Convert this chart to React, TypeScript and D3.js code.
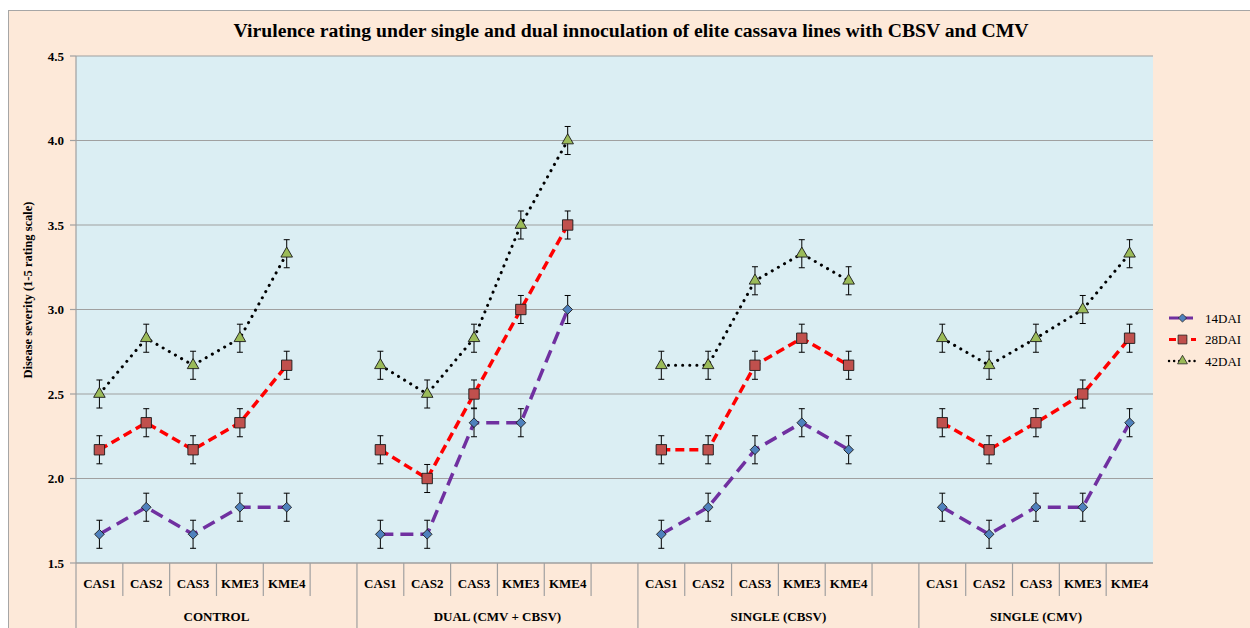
import React from 'react';
import * as d3 from 'd3';

const groups = ['CONTROL', 'DUAL (CMV + CBSV)', 'SINGLE (CBSV)', 'SINGLE (CMV)'];
const cultivars = ['CAS1', 'CAS2', 'CAS3', 'KME3', 'KME4'];
const yTicks = [1.5, 2.0, 2.5, 3.0, 3.5, 4.0, 4.5];

// mean rating per group, per cultivar
const dai14 = [
  [1.67, 1.83, 1.67, 1.83, 1.83],
  [1.67, 1.67, 2.33, 2.33, 3.0],
  [1.67, 1.83, 2.17, 2.33, 2.17],
  [1.83, 1.67, 1.83, 1.83, 2.33],
];
const dai28 = [
  [2.17, 2.33, 2.17, 2.33, 2.67],
  [2.17, 2.0, 2.5, 3.0, 3.5],
  [2.17, 2.17, 2.67, 2.83, 2.67],
  [2.33, 2.17, 2.33, 2.5, 2.83],
];
const dai42 = [
  [2.5, 2.83, 2.67, 2.83, 3.33],
  [2.67, 2.5, 2.83, 3.5, 4.0],
  [2.67, 2.67, 3.17, 3.33, 3.17],
  [2.83, 2.67, 2.83, 3.0, 3.33],
];
const errorBar = 0.083;

const seriesNames = ['14DAI', '28DAI', '42DAI'];

type Slot = { key: string; group: number; cultivar: string };

// 5 cultivars per group plus an empty spacer slot (not after the last group)
const slots: Slot[] = [];
groups.forEach((g, gi) => {
  cultivars.forEach(c => slots.push({ key: `${gi}-${c}`, group: gi, cultivar: c }));
  if (gi < groups.length - 1) slots.push({ key: `${gi}-blank`, group: gi, cultivar: '' });
});

const FONT = '"Liberation Serif", "Times New Roman", serif';

const App: React.FC = () => {
  const width = 1250;
  const height = 628;
  const plot = { left: 76, right: 1153, top: 56, bottom: 563 };

  const x = d3.scaleBand<string>()
    .domain(slots.map(s => s.key))
    .range([plot.left, plot.right])
    .padding(0);
  const y = d3.scaleLinear().domain([1.5, 4.5]).range([plot.bottom, plot.top]);

  const series = [
    { name: seriesNames[0], data: dai14, stroke: '#7030A0', dash: '13 7', width: 3.5, cap: 'butt', marker: 'diamond', fill: '#4F81BD' },
    { name: seriesNames[1], data: dai28, stroke: '#FF0000', dash: '9 5', width: 3.5, cap: 'butt', marker: 'square', fill: '#C0504D' },
    { name: seriesNames[2], data: dai42, stroke: '#000000', dash: '0.1 7', width: 3, cap: 'round', marker: 'triangle', fill: '#9BBB59' },
  ];

  type Pt = { key: string; v: number | null };
  const pointsFor = (data: number[][]): Pt[] =>
    slots.map(s => ({
      key: s.key,
      v: s.cultivar ? data[s.group][cultivars.indexOf(s.cultivar)] : null,
    }));

  const line = d3.line<Pt>()
    .defined(d => d.v !== null)
    .x(d => (x(d.key) as number) + x.bandwidth() / 2)
    .y(d => y(d.v as number));

  const markerPath = (kind: string) => {
    if (kind === 'diamond') return d3.symbol(d3.symbolDiamond2, 60)();
    if (kind === 'square') return d3.symbol(d3.symbolSquare, 108)();
    return d3.symbol(d3.symbolTriangle, 58)();
  };

  const groupBounds = groups.map((_, gi) => {
    const first = slots.findIndex(s => s.group === gi);
    return x(slots[first].key) as number;
  });

  return (
    <svg width={width} height={height} style={{ position: 'absolute', left: 0, top: 0, display: 'block', background: '#fff' }}>
      <rect x={8.5} y={10.5} width={1300} height={700} fill="#FDE9D9" stroke="#A6A6A6" />
      <text x={631} y={37} textAnchor="middle" fontFamily={FONT} fontWeight="bold" fontSize={19.7}>
        Virulence rating under single and dual innoculation of elite cassava lines with CBSV and CMV
      </text>

      <rect x={plot.left} y={plot.top} width={plot.right - plot.left} height={plot.bottom - plot.top} fill="#DBEEF3" />

      {yTicks.map(t => (
        <g key={t}>
          <line x1={plot.left} x2={plot.right} y1={y(t)} y2={y(t)} stroke="#A0A0A0" strokeWidth={1.2} />
          <line x1={plot.left - 6} x2={plot.left} y1={y(t)} y2={y(t)} stroke="#A0A0A0" strokeWidth={1.2} />
          <text x={plot.left - 12} y={y(t) + 4.5} textAnchor="end" fontFamily={FONT} fontWeight="bold" fontSize={13}>
            {t.toFixed(1)}
          </text>
        </g>
      ))}
      <line x1={plot.left} x2={plot.left} y1={plot.top} y2={plot.bottom} stroke="#A0A0A0" strokeWidth={1.2} />

      <text transform={`translate(32,290) rotate(-90)`} textAnchor="middle"
        fontFamily={FONT} fontWeight="bold" fontSize={12.5}>
        Disease severity (1-5 rating scale)
      </text>

      {/* category axis: short ticks between slots, long ones at group edges */}
      {slots.map((s, i) => {
        const x0 = x(s.key) as number;
        const isGroupStart = i === 0 || slots[i - 1].group !== s.group;
        return (
          <g key={s.key}>
            {i > 0 && !isGroupStart && (
              <line x1={x0} x2={x0} y1={plot.bottom} y2={596} stroke="#A0A0A0" strokeWidth={1.2} />
            )}
            {s.cultivar && (
              <text x={x0 + x.bandwidth() / 2} y={588} textAnchor="middle" fontFamily={FONT} fontWeight="bold" fontSize={13}>
                {s.cultivar}
              </text>
            )}
          </g>
        );
      })}
      {groupBounds.map((gx, gi) => (
        <line key={gi} x1={gx} x2={gx} y1={plot.bottom} y2={height + 5} stroke="#A0A0A0" strokeWidth={1.2} />
      ))}
      {groups.map((g, gi) => {
        const x0 = groupBounds[gi];
        const x1 = gi < groups.length - 1 ? groupBounds[gi + 1] : plot.right;
        return (
          <text key={g} x={(x0 + x1) / 2} y={621} textAnchor="middle" fontFamily={FONT} fontWeight="bold" fontSize={13}>
            {g}
          </text>
        );
      })}
      <line x1={plot.left} x2={plot.right} y1={plot.bottom} y2={plot.bottom} stroke="#A0A0A0" strokeWidth={1.2} />

      {series.map(s => {
        const pts = pointsFor(s.data);
        return (
          <g key={s.name}>
            <path d={line(pts) || ''} fill="none" stroke={s.stroke} strokeWidth={s.width}
              strokeDasharray={s.dash} strokeLinecap={s.cap as any} />
          </g>
        );
      })}

      {series.map(s => {
        const pts = pointsFor(s.data).filter(p => p.v !== null);
        return (
          <g key={s.name + '-marks'}>
            {pts.map(p => {
              const cx = (x(p.key) as number) + x.bandwidth() / 2;
              const v = p.v as number;
              return (
                <g key={p.key}>
                  <line x1={cx} x2={cx} y1={y(v + errorBar)} y2={y(v - errorBar)} stroke="#000" strokeWidth={1} />
                  <line x1={cx - 3} x2={cx + 3} y1={y(v + errorBar)} y2={y(v + errorBar)} stroke="#000" strokeWidth={1} />
                  <line x1={cx - 3} x2={cx + 3} y1={y(v - errorBar)} y2={y(v - errorBar)} stroke="#000" strokeWidth={1} />
                  <path d={markerPath(s.marker) || ''} transform={`translate(${cx},${y(v)})`}
                    fill={s.fill} stroke="#1a1a1a" strokeWidth={0.9} />
                </g>
              );
            })}
          </g>
        );
      })}

      {series.map((s, i) => {
        const ly = 318 + i * 21.5;
        return (
          <g key={s.name + '-legend'}>
            <line x1={1169} x2={1196} y1={ly} y2={ly} stroke={s.stroke}
              strokeWidth={s.width * 0.8} strokeDasharray={i === 2 ? '0.1 5' : i === 1 ? '7 4' : '10 4'} strokeLinecap={s.cap as any} />
            <path d={markerPath(s.marker) || ''} transform={`translate(1182.5,${ly}) scale(0.85)`}
              fill={s.fill} stroke="#1a1a1a" strokeWidth={0.9} />
            <text x={1205} y={ly + 4.5} fontFamily={FONT} fontSize={13}>{s.name}</text>
          </g>
        );
      })}
    </svg>
  );
};

export default App;
